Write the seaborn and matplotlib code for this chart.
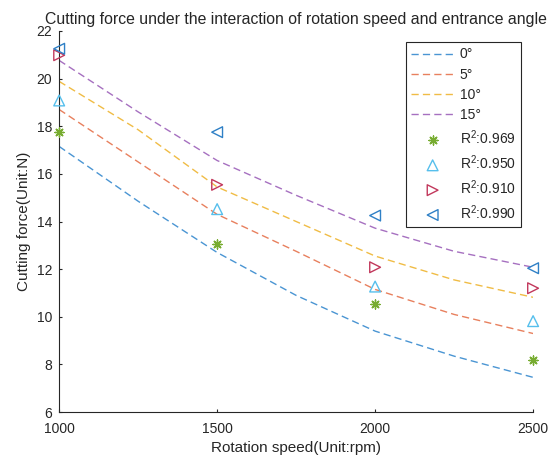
import numpy as np
import pandas as pd
import matplotlib
matplotlib.use("Agg")
import matplotlib.pyplot as plt
import seaborn as sns

# --- Data ---
speed = [1000, 1250, 1500, 1750, 2000, 2250, 2500]
fit_0 = [17.15, 14.85, 12.70, 10.90, 9.40, 8.35, 7.46]
fit_5 = [18.70, 16.50, 14.30, 12.75, 11.15, 10.10, 9.30]
fit_10 = [19.88, 17.85, 15.45, 14.00, 12.55, 11.55, 10.82]
fit_15 = [20.76, 18.60, 16.56, 15.10, 13.72, 12.75, 12.08]

test_speed = [1000, 1500, 2000, 2500]
meas_0 = [17.75, 13.06, 10.52, 8.18]
meas_5 = [19.08, 14.52, 11.27, 9.82]
meas_10 = [20.98, 15.54, 12.08, 11.20]
meas_15 = [21.25, 17.75, 14.25, 12.04]

angle_labels = ["0°", "5°", "10°", "15°"]
r2_labels = [r"R$^2$:0.969", r"R$^2$:0.950", r"R$^2$:0.910", r"R$^2$:0.990"]

sns.set_style("ticks")
plt.rcParams['font.family'] = ['Liberation Sans', 'DejaVu Sans']
plt.rcParams['mathtext.fontset'] = 'custom'
plt.rcParams['mathtext.rm'] = 'Liberation Sans'
plt.rcParams['mathtext.it'] = 'Liberation Sans'
plt.rcParams['mathtext.default'] = 'regular'

line_colors = ['#4a95d3', '#e8805e', '#f0bc45', '#a670c0']
mark_colors = ['#77ac30', '#56bfec', '#c2385c', '#2f80c6']
markers = [(8, 2, 0), '^', '>', '<']

fig = plt.figure(figsize=(5.53, 4.61), dpi=100)
ax = fig.add_axes([0.107, 0.106, 0.857, 0.827])

fits = [fit_0, fit_5, fit_10, fit_15]
for vals, col, lab in zip(fits, line_colors, angle_labels):
    df = pd.DataFrame({'speed': speed, 'force': vals})
    sns.lineplot(data=df, x='speed', y='force', ax=ax, color=col, label=lab,
                 linewidth=1.0, linestyle=(0, (5.2, 3.0)))

meas = [meas_0, meas_5, meas_10, meas_15]
for vals, col, mk, lab in zip(meas, mark_colors, markers, r2_labels):
    df = pd.DataFrame({'speed': test_speed, 'force': vals})
    if mk == markers[0]:
        sns.scatterplot(data=df, x='speed', y='force', ax=ax, marker=mk,
                        color=col, s=42, linewidth=1.0, label=lab,
                        clip_on=False, zorder=3)
    else:
        sns.scatterplot(data=df, x='speed', y='force', ax=ax, marker=mk,
                        facecolor='none', edgecolor=col, s=60, linewidth=1.0,
                        label=lab, clip_on=False, zorder=3)

ax.set_xlim(1000, 2500)
ax.set_ylim(6, 22)
ax.set_xticks([1000, 1500, 2000, 2500])
ax.set_yticks(np.arange(6, 23, 2))
ax.tick_params(direction='in', length=2.5, width=0.8, colors='#262626',
               labelsize=10)
ax.tick_params(axis='x', pad=7)
ax.tick_params(axis='y', pad=5)
for side in ['top', 'right']:
    ax.spines[side].set_visible(False)
for side in ['left', 'bottom']:
    ax.spines[side].set_color('#262626')
    ax.spines[side].set_linewidth(0.8)

ax.set_title('Cutting force under the interaction of rotation speed and entrance angle',
             fontsize=11.4, color='#262626', pad=5)
ax.set_xlabel('Rotation speed(Unit:rpm)', fontsize=11, color='#262626')
ax.set_ylabel('Cutting force(Unit:N)', fontsize=11, color='#262626')

leg = ax.legend(loc='upper right', bbox_to_anchor=(0.975, 0.971),
                borderaxespad=0, fontsize=10, frameon=True, fancybox=False,
                edgecolor='#262626', framealpha=1, handlelength=3.1,
                labelspacing=0.45, handletextpad=0.4)
leg.get_frame().set_linewidth(0.8)

plt.savefig('out.png', dpi=100)
plt.close(fig)
